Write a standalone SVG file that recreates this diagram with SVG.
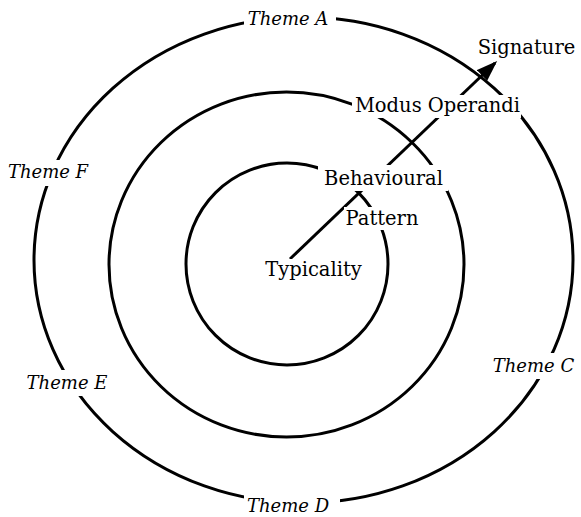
<svg xmlns="http://www.w3.org/2000/svg" width="581" height="517" viewBox="0 0 581 517">
<style>
.ring{fill:none;stroke:#000;stroke-width:3}
.lbl{font-family:"DejaVu Serif","Liberation Serif",serif;font-size:19.5px;fill:#000}
.theme{font-family:"DejaVu Serif","Liberation Serif",serif;font-size:18px;font-style:italic;fill:#000}
.mask{fill:#fff}
.arrow{stroke:#000;stroke-width:3;fill:none}
</style>
<defs>
<marker id="head" markerWidth="7" markerHeight="5" refX="6" refY="2.5" orient="auto" markerUnits="strokeWidth">
<path d="M0,0 L7,2.5 L0,5 Z" fill="#000"/>
</marker>
</defs>
<rect width="581" height="517" fill="#fff"/>
<g id="rings">
<ellipse id="outer" class="ring" cx="303.5" cy="260" rx="269.5" ry="243"/>
<ellipse id="middle" class="ring" cx="286.5" cy="264.5" rx="177.5" ry="172.5"/>
<circle id="inner" class="ring" cx="287" cy="264" r="101"/>
</g>
<g id="connectors">
<line class="arrow" x1="290" y1="259" x2="495" y2="63" marker-end="url(#head)"/>
</g>
<g id="node-typicality">
<rect class="mask" x="262" y="259" width="103" height="24"/>
<text class="lbl" x="313.5" y="276" text-anchor="middle">Typicality</text>
</g>
<g id="node-pattern">
<rect class="mask" x="344" y="207" width="78" height="23"/>
<text class="lbl" x="382" y="225" text-anchor="middle">Pattern</text>
</g>
<g id="node-behavioural">
<rect class="mask" x="318" y="165" width="130" height="26"/>
<text class="lbl" x="383.5" y="185" text-anchor="middle">Behavioural</text>
</g>
<g id="node-modus">
<rect class="mask" x="352" y="95" width="169" height="23"/>
<text class="lbl" x="437.5" y="112" text-anchor="middle">Modus Operandi</text>
</g>
<g id="node-signature">
<text class="lbl" x="526.5" y="54" text-anchor="middle">Signature</text>
</g>
<g id="theme-a">
<rect class="mask" x="244" y="3" width="92" height="28"/>
<text class="theme" x="288" y="25" text-anchor="middle">Theme A</text>
</g>
<g id="theme-f">
<rect class="mask" x="4" y="160" width="90" height="26"/>
<text class="theme" x="48" y="178" text-anchor="middle">Theme F</text>
</g>
<g id="theme-e">
<rect class="mask" x="23" y="370" width="88" height="26"/>
<text class="theme" x="67" y="389" text-anchor="middle">Theme E</text>
</g>
<g id="theme-c">
<rect class="mask" x="491" y="353" width="86" height="26"/>
<text class="theme" x="533.5" y="372" text-anchor="middle">Theme C</text>
</g>
<g id="theme-d">
<rect class="mask" x="244" y="490" width="96" height="27"/>
<text class="theme" x="288" y="512" text-anchor="middle">Theme D</text>
</g>
</svg>
